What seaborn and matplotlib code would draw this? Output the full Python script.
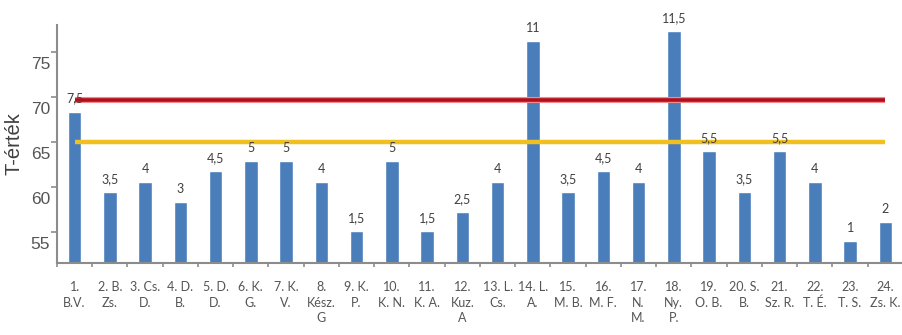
import numpy as np
import pandas as pd
import matplotlib
matplotlib.use("Agg")
import matplotlib.pyplot as plt
import matplotlib.transforms as mtransforms
import seaborn as sns

sns.set_style("white")
plt.rcParams["font.family"] = ["Liberation Sans", "DejaVu Sans"]

# ---- data ----
names = ["1.\nB.V.", "2. B.\nZs.", "3. Cs.\nD.", "4. D.\nB.", "5. D.\nD.",
         "6. K.\nG.", "7. K.\nV.", "8.\nKész.\nG", "9. K.\nP.", "10.\nK. N.",
         "11.\nK. A.", "12.\nKuz.\nA", "13. L.\nCs.", "14. L.\nA.", "15.\nM. B.",
         "16.\nM. F.", "17.\nN.\nM.", "18.\nNy.\nP.", "19.\nO. B.", "20. S.\nB.",
         "21.\nSz. R.", "22.\nT. É.", "23.\nT. S.", "24.\nZs. K."]
raw_scores = [7.5, 3.5, 4, 3, 4.5, 5, 5, 4, 1.5, 5, 1.5, 2.5,
              4, 11, 3.5, 4.5, 4, 11.5, 5.5, 3.5, 5.5, 4, 1, 2]
t_values = [68.4, 59.5, 60.6, 58.4, 61.8, 62.9, 62.9, 60.6, 55.1, 62.9, 55.1, 57.3,
            60.6, 76.2, 59.5, 61.8, 60.6, 77.3, 64.0, 59.5, 64.0, 60.6, 54.0, 56.2]
red_level = 69.7
yellow_level = 65
y_ticks = [55, 60, 65, 70, 75]

df = pd.DataFrame({"name": names, "t": t_values, "raw": raw_scores})

fig = plt.figure(figsize=(9.03, 3.35), dpi=100)
ax = fig.add_axes([57 / 903, 72 / 335, 846 / 903, 238 / 335])

sns.barplot(data=df, x="name", y="t", color="#4a7ebb", saturation=1,
            width=0.38, ax=ax, zorder=2)

# threshold lines
n = len(names)
ax.hlines(red_level, 0, n - 1, color="#f28a8a", lw=4.4, zorder=3)
ax.hlines(red_level, 0, n - 1, color="#b0101c", lw=2.6, zorder=4)
ax.hlines(yellow_level, 0, n - 1, color="#f0c020", lw=3.2, zorder=3)

# value labels (raw scores) above bars
for i, (t, r) in enumerate(zip(t_values, raw_scores)):
    txt = ("%g" % r).replace(".", ",")
    ax.annotate(txt, (i, t), xytext=(0, 5), textcoords="offset points",
                ha="center", va="bottom", fontsize=9, color="#404040",
                family=["Lato", "DejaVu Sans"], annotation_clip=False)

ax.set_ylim(51.6, 78)
ax.set_xlim(-0.5, n - 0.5)
ax.set_yticks(y_ticks)
ax.set_xlabel("")
ax.set_ylabel("T-érték", fontsize=14.5, color="#404040", labelpad=5)

for s in ["top", "right"]:
    ax.spines[s].set_visible(False)
for s in ["left", "bottom"]:
    ax.spines[s].set_color("#8c8c8c")
    ax.spines[s].set_linewidth(1.5)

ax.tick_params(axis="y", left=True, direction="out", length=4, width=1.2,
               color="#8c8c8c", labelsize=12.5, labelcolor="#555555", pad=1)
ax.tick_params(axis="x", which="major", bottom=True, length=0, pad=13)
ax.set_xticks(np.arange(-0.5, n), minor=True)
ax.tick_params(axis="x", which="minor", bottom=True, direction="out", length=3,
               width=1.2, color="#8c8c8c")
for lab in ax.get_xticklabels():
    lab.set_fontfamily(["Lato", "DejaVu Sans"])
    lab.set_fontsize(9)
    lab.set_color("#555555")
    lab.set_linespacing(1.35)
    lab.set_verticalalignment("top")

# y tick labels sit a little below their tick marks in the original
offset = mtransforms.ScaledTranslation(0, -0.11, fig.dpi_scale_trans)
for lab in ax.get_yticklabels():
    lab.set_transform(lab.get_transform() + offset)

fig.savefig("out.png", dpi=100)
